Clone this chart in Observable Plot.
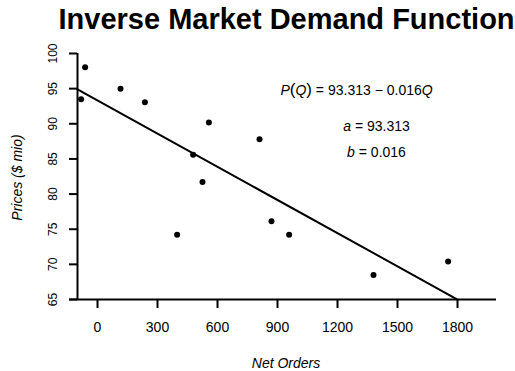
<!DOCTYPE html>
<html><head><meta charset="utf-8">
<script src="https://cdn.jsdelivr.net/npm/d3@7"></script>
<script src="https://cdn.jsdelivr.net/npm/@observablehq/plot@0.6"></script>
<style>html,body{margin:0;padding:0;background:#fff;} svg{display:block}</style>
</head><body><div id="chart"></div>
<script>
const title = "Inverse Market Demand Function";
const xLabel = "Net Orders";
const yLabel = "Prices ($ mio)";
const netOrders = [-82, -62, 115, 237, 398, 478, 525, 557, 810, 870, 958, 1380, 1753];
const prices = [93.5, 98.05, 95.0, 93.07, 74.2, 85.6, 81.7, 90.2, 87.8, 76.15, 74.2, 68.5, 70.4];
const xTicks = [0, 300, 600, 900, 1200, 1500, 1800];
const yTicks = [65, 70, 75, 80, 85, 90, 95, 100];
const intercept = 93.313;
const slope = 0.01573;
const fitRange = [-100, 1800];
const xDomain = [-140, 1995];
const yDomain = [65, 100];
const yAxisAt = -100;

const fmt = d3.format(".3f");
const points = netOrders.map((q, i) => ({q, p: prices[i]}));
const fit = fitRange.map(q => ({q, p: intercept - slope * q}));
const eqText = `P(Q) = ${fmt(intercept)} \u2212 ${fmt(slope)}Q`;
const aText = `a = ${fmt(intercept)}`;
const bText = `b = ${fmt(slope)}`;

const txt = {lineAnchor: "middle", fill: "#000"};

const chart = Plot.plot({
  width: 515, height: 371,
  marginLeft: 69, marginRight: 19, marginTop: 53, marginBottom: 72,
  style: {fontFamily: "'Liberation Sans', Arial, sans-serif", fontSize: "14px", color: "#000", background: "#fff", overflow: "visible"},
  x: {domain: xDomain},
  y: {domain: yDomain, axis: null},
  marks: [
    Plot.ruleY([yDomain[0]], {stroke: "#000", strokeWidth: 2}),
    Plot.ruleX([yAxisAt], {y1: yDomain[0], y2: yDomain[1], stroke: "#000", strokeWidth: 2}),
    Plot.axisX(xTicks, {anchor: "bottom", tickSize: 9, tickPadding: 14, strokeWidth: 2, fontSize: 14, label: null, tickFormat: d => String(d)}),
    Plot.ruleY(yTicks, {y: d => d, x1: xDomain[0], x2: yAxisAt, stroke: "#000", strokeWidth: 2}),
    Plot.text(yTicks, {...txt, y: d => d, text: d => String(d), frameAnchor: "left", textAnchor: "middle", rotate: -90, dx: -16.5, fontSize: 12}),
    Plot.line(fit, {x: "q", y: "p", stroke: "#000", strokeWidth: 2}),
    Plot.dot(points, {x: "q", y: "p", r: 3, fill: "#000", stroke: "none"}),
    Plot.text([title], {...txt, text: d => d, frameAnchor: "top-left", textAnchor: "start", dx: -11, dy: -33.8, fontSize: 29, fontWeight: "bold"}),
    Plot.text([xLabel], {...txt, text: d => d, frameAnchor: "bottom", textAnchor: "middle", dx: 3, dy: 64.5, fontSize: 14, fontStyle: "italic"}),
    Plot.text([yLabel], {...txt, text: d => d, frameAnchor: "left", textAnchor: "middle", rotate: -90, dx: -51.5, dy: 1, fontSize: 14, fontStyle: "italic"}),
    Plot.text([eqText], {...txt, text: d => d, frameAnchor: "top-left", textAnchor: "middle", dx: 287, dy: 37.5, fontSize: 14}),
    Plot.text([aText], {...txt, text: d => d, frameAnchor: "top-left", textAnchor: "middle", dx: 307, dy: 73, fontSize: 14}),
    Plot.text([bText], {...txt, text: d => d, frameAnchor: "top-left", textAnchor: "middle", dx: 307, dy: 99.5, fontSize: 14})
  ]
});

function richText(svg, plain, parts) {
  d3.select(svg).selectAll("text").filter(function () { return this.textContent === plain; }).each(function () {
    const t = d3.select(this);
    t.text(null);
    parts.forEach(([s, st]) => {
      const ts = t.append("tspan").text(s);
      if (st.italic) ts.attr("font-style", "italic");
      if (st.size) ts.attr("font-size", st.size);
    });
  });
}
richText(chart, eqText, [["P", {italic: true}], ["(", {size: 17}], ["Q", {italic: true}], [")", {size: 17}], [` = ${fmt(intercept)} \u2212 ${fmt(slope)}`, {}], ["Q", {italic: true}]]);
richText(chart, aText, [["a", {italic: true}], [` = ${fmt(intercept)}`, {}]]);
richText(chart, bText, [["b", {italic: true}], [` = ${fmt(slope)}`, {}]]);

document.getElementById("chart").appendChild(chart);
</script>
</body></html>
